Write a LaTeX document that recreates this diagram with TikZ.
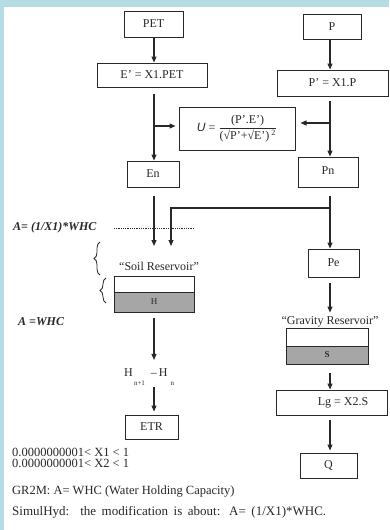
\documentclass[tikz,border=0pt]{standalone}
\usepackage{fontspec}
\setmainfont{Liberation Serif}
\newfontfamily\arialfont{Liberation Sans}
\usetikzlibrary{arrows.meta,decorations.pathreplacing}
\definecolor{frameblue}{RGB}{180,220,226}
\definecolor{ink}{RGB}{40,40,40}
\definecolor{resgray}{RGB}{166,166,166}
\begin{document}
\begin{tikzpicture}[x=1pt,y=-1pt,
  box/.style={draw=ink,line width=1pt,fill=white,inner sep=0pt,text=ink,font=\fontsize{12}{14}\selectfont},
  wire/.style={draw=ink,line width=1.1pt},
  arr/.style={wire,-{Triangle[length=6pt,width=5pt]}},
  lbl/.style={text=ink,inner sep=0pt,font=\fontsize{12}{14}\selectfont},
  notelbl/.style={text=ink,inner sep=0pt,font=\fontsize{12.5}{14}\selectfont},
  sidelbl/.style={text=ink,inner sep=0pt,font=\fontsize{12}{14}\selectfont\bfseries\itshape},
  bracestyle/.style={draw=ink,line width=0.8pt,decorate},
]
\useasboundingbox (0,0) rectangle (389,530);
\fill[frameblue] (0,0) rectangle (389,530);
\fill[white] (4,7) rectangle (389,530);

% columns
\coordinate (cL) at (154,0);
\coordinate (cR) at (330,0);

% boxes
\node[box,minimum width=59pt,minimum height=26pt] (PET) at (153.5,24) {PET};
\node[box,minimum width=58pt,minimum height=25pt] (P) at (332,26.5) {P};
\node[box,minimum width=110pt,minimum height=24pt] (Ep) at (152,75) {E’ = X1.PET};
\node[box,minimum width=111pt,minimum height=26pt] (Pp) at (332.5,83) {P’ = X1.P};
\node[box,minimum width=116pt,minimum height=43pt] (U) at (237,128.5)
  {{\arialfont\itshape U} = \(\displaystyle\frac{\mbox{(P’.E’)}}{\mbox{(√P’+√E’)\,\textsuperscript{2}}}\)};
\node[box,minimum width=52pt,minimum height=26pt] (En) at (153,174) {En};
\node[box,minimum width=60pt,minimum height=30pt] (Pn) at (328,172) {\raisebox{3pt}{Pn}};
\node[box,minimum width=51pt,minimum height=28pt] (Pe) at (333.5,263) {Pe};

% soil reservoir
\node[lbl] (soilLbl) at (159,266) {“Soil Reservoir”};
\node[box,minimum width=80pt,minimum height=16pt] (soilTop) at (154,284) {};
\node[box,fill=resgray,minimum width=80pt,minimum height=20pt,font=\fontsize{9}{10}\selectfont] (soilBot) at (154,302) {H};

% gravity reservoir
\node[lbl] (gravLbl) at (330,322) {“Gravity Reservoir”};
\node[box,minimum width=82pt,minimum height=18pt] (gravTop) at (327,337) {};
\node[box,fill=resgray,minimum width=82pt,minimum height=18pt,font=\fontsize{9}{10}\selectfont\bfseries] (gravBot) at (327,355) {S};

% H difference
\node[lbl,anchor=base west] (Hdiff) at (124,376)
  {H\raisebox{-9pt}{\fontsize{7}{7}\selectfont\,n+1}\hspace{6pt}–\,H\raisebox{-9pt}{\fontsize{7}{7}\selectfont\hspace{3pt}n}};

\node[box,minimum width=53pt,minimum height=24pt] (ETR) at (151.5,427) {ETR};
\node[box,minimum width=111pt,minimum height=25pt] (Lg) at (332,402.5) {\hspace*{22pt}Lg = X2.S};
\node[box,minimum width=57pt,minimum height=25pt] (Q) at (328.5,465.5) {Q};

% side labels
\node[sidelbl,anchor=west] (Alab1) at (13,228) {A= (1/X1)*WHC};
\node[sidelbl,anchor=west] (Alab2) at (18,322) {A =WHC};

% bottom text
\node[notelbl,anchor=west] (t1) at (12,452) {0.0000000001< X1 < 1};
\node[notelbl,anchor=west] (t2) at (12,463) {0.0000000001< X2 < 1};
\node[notelbl,anchor=west] (t3) at (12,492) {GR2M: A= WHC (Water Holding Capacity)};
\node[notelbl,anchor=west,font=\fontsize{13}{14}\selectfont] (t4) at (12,512) {\makebox[314pt][s]{SimulHyd:\ \ the modification is about: A= (1/X1)*WHC.}};

% dotted line
\coordinate (dotA) at (114,228);
\coordinate (dotB) at (194,228);
\draw[ink,line width=0.8pt,dash pattern=on 0.8pt off 1pt] (dotA) -- (dotB);

% braces
\coordinate (brA1) at (100,275);
\coordinate (brA2) at (100,242);
\coordinate (brB1) at (106,303);
\coordinate (brB2) at (106,278);
\draw[bracestyle,decoration={brace,amplitude=6pt}] (brA1) -- (brA2);
\draw[bracestyle,decoration={brace,amplitude=6pt}] (brB1) -- (brB2);

% connectors
\draw[arr] (PET.south -| cL) -- (Ep.north -| cL);
\draw[arr] (P.south -| cR) -- (Pp.north -| cR);
\draw[arr,shorten <=6pt] (Ep.south -| cL) -- (En.north -| cL);
\draw[arr,shorten <=4pt] (Pp.south -| cR) -- (Pn.north -| cR);
\coordinate (uL) at ([yshift=2.5pt]U.west);
\coordinate (uR) at ([yshift=5.5pt]U.east);
\draw[arr] (uL -| cL) -- ([xshift=-3pt]uL);
\draw[arr] (uR -| cR) -- ([xshift=5pt]uR);

\coordinate (tipA) at (154,246);
\coordinate (jR) at (330,208);
\coordinate (jL) at (171,208);
\coordinate (tipB) at (171,246);
\draw[arr,shorten <=8pt] (En.south -| cL) -- (tipA);
\draw[arr,shorten <=8pt] (Pn.south -| cR) -- (Pe.north -| cR);
\draw[arr] (jR) -- (jL) -- (tipB);

\draw[arr,shorten <=5pt,shorten >=4pt] (Pe.south -| cR) -- (gravLbl.north -| cR);
\draw[arr,shorten <=8pt] (gravBot.south -| cR) -- (Lg.north -| cR);
\draw[arr,shorten <=4pt,shorten >=2pt] (Lg.south -| cR) -- (Q.north -| cR);
\draw[arr,shorten <=5pt,shorten >=8pt] (soilBot.south -| cL) -- (Hdiff.north -| cL);
\draw[arr,shorten <=2pt,shorten >=3pt] (Hdiff.south -| cL) -- (ETR.north -| cL);
\end{tikzpicture}
\end{document}
